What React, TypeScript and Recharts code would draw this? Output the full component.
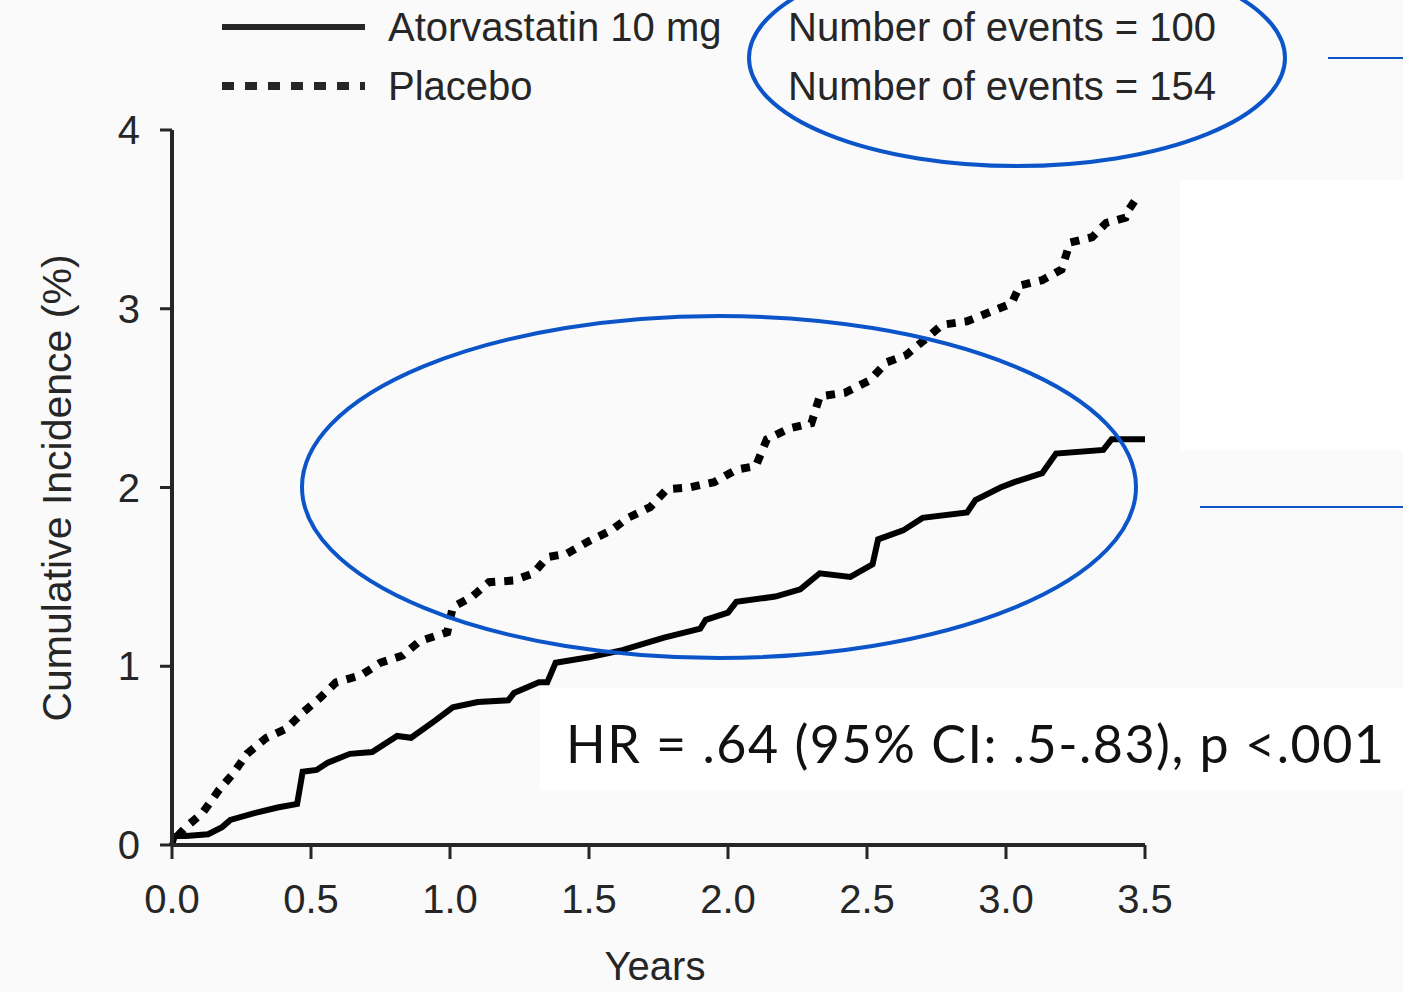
import { LineChart, Line, XAxis, YAxis, Legend } from 'recharts';

// ── data (years, cumulative incidence %) ─────────────────────────
const atorvaYears = [0, 0.01, 0.05, 0.13, 0.18, 0.21, 0.3, 0.38, 0.45, 0.47, 0.52, 0.56, 0.64, 0.72, 0.81, 0.86, 0.95, 1.01, 1.1, 1.21, 1.23, 1.32, 1.35, 1.38, 1.5, 1.62, 1.77, 1.9, 1.92, 2.0, 2.03, 2.17, 2.26, 2.33, 2.44, 2.52, 2.54, 2.63, 2.7, 2.86, 2.89, 2.98, 3.03, 3.13, 3.18, 3.35, 3.38, 3.5];
const atorvaIncidence = [0, 0.05, 0.05, 0.06, 0.1, 0.14, 0.18, 0.21, 0.23, 0.41, 0.42, 0.46, 0.51, 0.52, 0.61, 0.6, 0.7, 0.77, 0.8, 0.81, 0.85, 0.91, 0.91, 1.02, 1.05, 1.09, 1.16, 1.21, 1.26, 1.3, 1.36, 1.39, 1.43, 1.52, 1.5, 1.57, 1.71, 1.76, 1.83, 1.86, 1.93, 2.0, 2.03, 2.08, 2.19, 2.21, 2.27, 2.27];

const placeboYears = [0.02, 0.05, 0.11, 0.17, 0.22, 0.27, 0.34, 0.41, 0.47, 0.53, 0.59, 0.68, 0.75, 0.83, 0.89, 0.99, 1.01, 1.08, 1.14, 1.23, 1.3, 1.35, 1.42, 1.5, 1.58, 1.64, 1.72, 1.78, 1.86, 1.95, 2.03, 2.1, 2.14, 2.22, 2.3, 2.33, 2.42, 2.51, 2.57, 2.64, 2.71, 2.77, 2.86, 2.94, 3.02, 3.05, 3.13, 3.2, 3.21, 3.23, 3.31, 3.36, 3.43, 3.44, 3.47];
const placeboIncidence = [0.05, 0.1, 0.18, 0.31, 0.4, 0.51, 0.6, 0.65, 0.74, 0.82, 0.91, 0.95, 1.02, 1.06, 1.14, 1.19, 1.33, 1.39, 1.47, 1.48, 1.52, 1.61, 1.63, 1.7, 1.76, 1.83, 1.89, 1.99, 2.0, 2.03, 2.1, 2.12, 2.27, 2.33, 2.36, 2.51, 2.53, 2.6, 2.7, 2.74, 2.83, 2.91, 2.93, 2.98, 3.03, 3.13, 3.16, 3.22, 3.27, 3.37, 3.4, 3.48, 3.51, 3.55, 3.62];

const xTicks = [0, 0.5, 1, 1.5, 2, 2.5, 3, 3.5];
const yTicks = [0, 1, 2, 3, 4];

const seriesNames = ['Atorvastatin 10 mg', 'Placebo'];
const eventCounts = [100, 154];
const hrText = 'HR = .64 (95% CI: .5-.83), p <.001';

const atorvaData = atorvaYears.map((t, i) => ({ t, v: atorvaIncidence[i] }));
const placeboData = placeboYears.map((t, i) => ({ t, v: placeboIncidence[i] }));

const INK = '#262626';
const BLUE = '#0b55c9';
const FONT = '"Liberation Sans", Arial, sans-serif';

// ── legend with event counts ─────────────────────────────────────
function KMLegend() {
  const rows = [
    { name: seriesNames[0], dash: undefined, n: eventCounts[0] },
    { name: seriesNames[1], dash: '12 11', n: eventCounts[1] },
  ];
  return (
    <svg width={1100} height={120} style={{ overflow: 'visible', display: 'block' }}>
      {rows.map((r, i) => (
        <g key={r.name} transform={`translate(0, ${27 + i * 59})`}>
          <line x1={12} x2={155} y1={0} y2={0} stroke={INK} strokeWidth={i ? 8 : 6} strokeDasharray={r.dash} />
          <text x={178} y={0} dy="0.36em" fontSize={40} fill={INK} fontFamily={FONT}>{r.name}</text>
          <text x={578} y={0} dy="0.36em" fontSize={40} fill={INK} fontFamily={FONT}>
            {`Number of events = ${r.n}`}
          </text>
        </g>
      ))}
    </svg>
  );
}

export default function App() {
  return (
    <div style={{ position: 'absolute', left: 0, top: 0, width: 1403, height: 992, background: '#fafafa', overflow: 'hidden' }}>
      {/* faint white patches behind the annotation */}
      <div style={{ position: 'absolute', left: 1180, top: 180, width: 223, height: 270, background: '#ffffff' }} />
      <div style={{ position: 'absolute', left: 540, top: 688, width: 863, height: 102, background: '#ffffff' }} />

      <LineChart
        width={1403}
        height={992}
        margin={{ top: 130, right: 258, bottom: 0, left: 0 }}
        style={{ position: 'absolute', left: 0, top: 0 }}
      >
        <XAxis
          dataKey="t"
          type="number"
          domain={[0, 3.5]}
          ticks={xTicks}
          allowDuplicatedCategory={false}
          tickFormatter={(v: number) => v.toFixed(1)}
          height={147}
          axisLine={{ stroke: INK, strokeWidth: 4 }}
          tickLine={{ stroke: INK, strokeWidth: 3 }}
          tickSize={14}
          tickMargin={26}
          tick={{ fill: INK, fontSize: 40, fontFamily: FONT }}
          label={() => (
            <text x={655} y={966} textAnchor="middle" dominantBaseline="central" fontSize={40} fill={INK} fontFamily={FONT}>
              Years
            </text>
          )}
        />
        <YAxis
          type="number"
          domain={[0, 4]}
          ticks={yTicks}
          width={172}
          axisLine={{ stroke: INK, strokeWidth: 4 }}
          tickLine={{ stroke: INK, strokeWidth: 3 }}
          tickSize={12}
          tickMargin={20}
          tick={{ fill: INK, fontSize: 40, fontFamily: FONT }}
          label={() => (
            <text
              x={57}
              y={488}
              transform="rotate(-90 57 488)"
              textAnchor="middle"
              dominantBaseline="central"
              fontSize={41}
              fill={INK}
              fontFamily={FONT}
            >
              Cumulative Incidence (%)
            </text>
          )}
        />
        <Legend
          verticalAlign="middle"
          layout="horizontal"
          content={() => <KMLegend />}
          wrapperStyle={{ position: 'absolute', left: 210, top: 0, width: 1100, height: 120 }}
        />
        <Line
          data={atorvaData}
          dataKey="v"
          name={seriesNames[0]}
          type="linear"
          stroke="#000"
          strokeWidth={6}
          dot={false}
          isAnimationActive={false}
        />
        <Line
          data={placeboData}
          dataKey="v"
          name={seriesNames[1]}
          type="linear"
          stroke="#000"
          strokeWidth={8}
          strokeDasharray="9 9"
          dot={false}
          isAnimationActive={false}
        />
      </LineChart>

      {/* annotation overlay */}
      <svg width={1403} height={992} style={{ position: 'absolute', left: 0, top: 0, pointerEvents: 'none' }}>
        <ellipse cx={1017} cy={58} rx={268} ry={108} fill="none" stroke={BLUE} strokeWidth={4} />
        <ellipse cx={719} cy={487} rx={417} ry={171} fill="none" stroke={BLUE} strokeWidth={4} />
        <line x1={1328} x2={1403} y1={58} y2={58} stroke={BLUE} strokeWidth={2} />
        <line x1={1200} x2={1403} y1={507} y2={507} stroke={BLUE} strokeWidth={2} />
        <text x={566} y={743} dominantBaseline="central" fontSize={52} letterSpacing={1.5} fill="#111" fontFamily="Lato, sans-serif">
          {hrText}
        </text>
      </svg>
    </div>
  );
}
